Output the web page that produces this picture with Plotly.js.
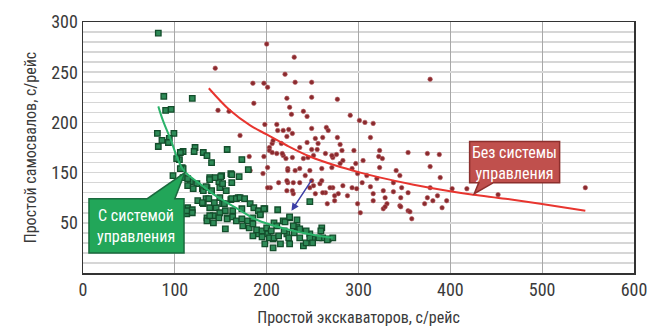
<!DOCTYPE html>
<html>
<head>
<meta charset="utf-8">
<script src="https://cdn.plot.ly/plotly-3.0.1.min.js"></script>
<style>html,body{margin:0;padding:0;background:#fff;}#chart{width:648px;height:327px;}</style>
</head>
<body>
<div id="chart"></div>
<script>
// Green: with control system (x = excavator idle, y = truck idle)
const greenX = [82,88,90,96,119,81,86,82,99,94,109,122,121,131,135,140,157,105,108,102,109,180,161,151,138,148,117,124,114,130,135,140,149,156,125,131,114,119,138,145,152,161,169,113,135,142,149,157,163,173,179,185,193,198,212,208,218,225,233,260,247,250,261,267,272,247,222,207,201,191,198,215,240,109,98,93,106,106,114,120,131,134,108,113,119,135,130,138,144,150,152,162,162,170,173,134,137,143,149,154,162,167,171,176,182,186,191,197,193,138,142,148,155,157,163,167,173,155,174,181,185,189,195,200,205,211,220,225,233,229,236,243,203,208,213,219,224,230,236,243,247,250,257,259,266,225,207,195,185];
const greenY = [289,226,212,213,224,189,182,176,189,184,171,175,171,170,167,160,173,163,155,164,154,153,149,147,145,141,141,139,137,134,135,132,135,132,122,119,115,113,115,115,119,123,125,109,105,107,110,105,112,114,102,105,109,114,113,100,102,105,96,95,89,84,85,84,85,121,89,84,89,89,79,79,77,145,147,180,170,154,144,134,132,124,114,112,110,102,120,143,145,146,139,148,140,146,163,136,124,120,125,119,124,124,125,124,119,115,112,114,108,107,100,105,112,104,106,102,104,94,97,95,99,93,92,95,92,97,101,106,103,97,94,92,85,85,87,92,85,90,85,80,85,80,85,92,83,79,75,86,87];
// Red: without control system
const redX = [144,200,230,220,185,197,201,231,249,378,186,222,249,277,147,159,225,227,240,244,291,301,307,316,198,211,171,212,218,224,228,249,265,267,313,253,261,277,222,206,216,203,244,256,236,280,282,295,323,322,354,375,388,181,197,218,228,276,272,203,217,249,255,271,221,240,251,283,297,305,323,326,378,389,345,201,223,236,247,260,271,280,293,299,309,304,298,313,320,338,327,329,316,299,302,331,345,354,358,327,266,278,274,264,272,258,247,236,223,204,222,229,283,288,293,316,338,354,375,381,396,391,386,378,402,418,452,547,182,196,213,341,347,346,329,346,356,372,207,206,211,245,264,223,231,222,229,242,249,251,260,261,269,274,253,228,201];
const redY = [254,278,265,248,239,239,235,240,240,243,219,224,225,223,212,211,215,208,211,206,207,202,200,199,198,198,187,192,192,193,189,194,195,192,185,184,185,185,186,179,179,175,180,179,175,178,172,172,172,166,170,169,168,166,166,167,165,168,165,172,169,173,173,167,164,164,167,162,159,162,155,164,156,145,147,155,154,154,152,154,155,159,154,149,147,140,134,136,144,140,132,125,122,119,110,119,117,112,104,114,119,129,122,130,135,139,135,140,140,135,132,129,137,127,135,129,131,130,125,122,122,115,127,135,134,134,128,135,152,149,140,152,135,125,116,116,111,119,182,170,169,165,169,152,152,142,140,147,142,137,142,130,135,127,129,132,135];
// Trend lines
const greenTrendX = [82,87,95,109,127,146,170,189,220,250,272];
const greenTrendY = [216,202,184,153,139,126,113,103,94,88,85];
const redTrendX = [137,160,182,200,222,247,275,302,324,360,403,425,460,498,547];
const redTrendY = [234,212,197,188,177,166,157,150,145,138,131,128,124,119,112];
// Axis ticks
const xTicks = [0,100,200,300,400,500,600];
const yTickVals = [100,150,200,250,300];
const yTickText = ['50','150','200','250','300'];
const xTitle = 'Простой экскаваторов, с/рейс';
const yTitle = 'Простой самосвалов, с/рейс';
const greenLabel = 'С системой<br>управления';
const redLabel = 'Без системы<br>управления';

const FONT = '"Liberation Sans Narrow", "Roboto Condensed", Roboto, sans-serif';

const traces = [
  {x: redX, y: redY, type: 'scatter', mode: 'markers',
   marker: {symbol: 'circle', size: 4.5, color: '#8a2a2e', line: {color: '#b45a5e', width: 0.6}}, hoverinfo: 'skip'},
  {x: greenX, y: greenY, type: 'scatter', mode: 'markers',
   marker: {symbol: 'square', size: 5.5, color: '#2e8a57', line: {color: '#134d2b', width: 1.3}}, hoverinfo: 'skip'},
  {x: greenTrendX, y: greenTrendY, type: 'scatter', mode: 'lines',
   line: {color: '#2bb36a', width: 2, shape: 'spline'}, hoverinfo: 'skip'},
  {x: redTrendX, y: redTrendY, type: 'scatter', mode: 'lines',
   line: {color: '#e8352f', width: 2, shape: 'spline'}, hoverinfo: 'skip'}
];

const layout = {
  width: 648, height: 327,
  margin: {l: 83, r: 14, t: 22, b: 54},
  paper_bgcolor: '#ffffff', plot_bgcolor: '#ffffff',
  showlegend: false,
  font: {family: FONT, color: '#333333'},
  xaxis: {
    range: [0, 600], tickmode: 'array', tickvals: xTicks,
    showgrid: true, gridcolor: '#a8a8a8', gridwidth: 1,
    showline: true, linecolor: '#333333', linewidth: 1.5, mirror: true,
    zeroline: false, ticks: '', tickfont: {size: 18, family: FONT, color: '#3a3a3a'},
    title: {text: xTitle, font: {size: 16, family: FONT, color: '#3a3a3a'}, standoff: 12}
  },
  yaxis: {
    range: [50, 300], tickmode: 'array', tickvals: yTickVals, ticktext: yTickText,
    showgrid: true, gridcolor: '#d6d6d6', gridwidth: 1.5,
    minor: {dtick: 10, tick0: 0, showgrid: true, gridcolor: '#d6d6d6', gridwidth: 1.5},
    showline: true, linecolor: '#333333', linewidth: 1.5, mirror: true,
    zeroline: false, ticks: '', tickfont: {size: 18, family: FONT, color: '#3a3a3a'},
    title: {text: yTitle, font: {size: 16, family: FONT, color: '#3a3a3a'}, standoff: 10}
  },
  shapes: [
    {type: 'path', xref: 'x', yref: 'y', layer: 'above',
     path: 'M 6.5,70 L 6.5,124 L 70,124 L 111,150 L 100,124 L 110,124 L 110,70 Z',
     fillcolor: '#22a659', line: {color: '#1a6a3e', width: 1.5}},
    {type: 'path', xref: 'x', yref: 'y', layer: 'above',
     path: 'M 421,140 L 421,181 L 519,181 L 519,140 L 447,140 L 426,129 L 431,140 Z',
     fillcolor: '#c0504d', line: {color: '#8c2f2d', width: 1.5}}
  ],
  annotations: [
    {x: 58, y: 97, xref: 'x', yref: 'y', text: greenLabel, showarrow: false,
     font: {size: 16, color: '#ffffff', family: FONT}, align: 'center'},
    {x: 470, y: 160, xref: 'x', yref: 'y', text: redLabel, showarrow: false,
     font: {size: 16, color: '#ffffff', family: FONT}, align: 'center'},
    {x: 227, y: 112, xref: 'x', yref: 'y', ax: 250, ay: 144, axref: 'x', ayref: 'y',
     text: '', showarrow: true, arrowhead: 2, arrowsize: 1, arrowwidth: 1.5, arrowcolor: '#3c3fa6'}
  ]
};

Plotly.newPlot('chart', traces, layout, {staticPlot: true, displayModeBar: false});
</script>
</body>
</html>
